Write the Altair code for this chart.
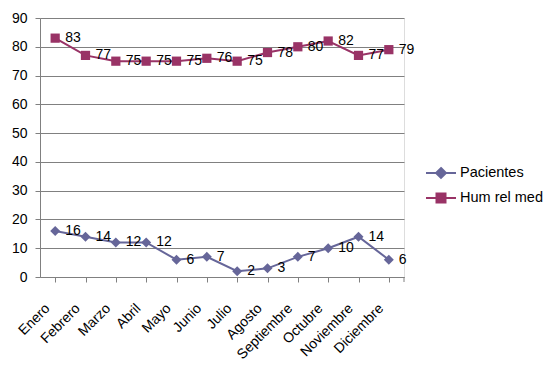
import altair as alt
import pandas as pd

months = ["Enero", "Febrero", "Marzo", "Abril", "Mayo", "Junio", "Julio",
          "Agosto", "Septiembre", "Octubre", "Noviembre", "Diciembre"]
pacientes = [16, 14, 12, 12, 6, 7, 2, 3, 7, 10, 14, 6]
hum_rel_med = [83, 77, 75, 75, 75, 76, 75, 78, 80, 82, 77, 79]
series_names = ["Pacientes", "Hum rel med"]
series_colors = ["#666699", "#993366"]

rows = []
for m, v in zip(months, pacientes):
    rows.append({"mes": m, "serie": "Pacientes", "valor": v})
for m, v in zip(months, hum_rel_med):
    rows.append({"mes": m, "serie": "Hum rel med", "valor": v})
df = pd.DataFrame(rows)

W, H = 364, 259
FONT = "Liberation Sans"

x_enc = alt.X("mes:N", sort=months, title=None,
              scale=alt.Scale(domain=months, paddingInner=0, paddingOuter=0),
              axis=alt.Axis(bandPosition=0, labelOffset=-8, labelAngle=315,
                            labelAlign="right", labelBaseline="middle",
                            labelPadding=24, tickSize=5, tickColor="#808080",
                            domainColor="#808080", labelFontSize=14,
                            labelColor="black", labelFont=FONT, grid=False))
y_enc = alt.Y("valor:Q", title=None,
              scale=alt.Scale(domain=[0, 90], nice=False),
              axis=alt.Axis(values=list(range(0, 91, 10)), tickSize=5,
                            tickColor="#808080", domainColor="#808080",
                            gridColor="#808080", labelFontSize=14,
                            labelColor="black", labelFont=FONT, labelPadding=8))

symbols = {
    "Pacientes": "M-1,0H1M0,-0.33L0.33,0L0,0.33L-0.33,0Z",
    "Hum rel med": "M-1,0H1M-0.3,-0.3H0.3V0.3H-0.3Z",
}
shapes = {"Pacientes": "diamond", "Hum rel med": "square"}
sizes = {"Pacientes": 100, "Hum rel med": 85}
legend_y = {"Pacientes": 139, "Hum rel med": 164}

layers = []
for name, col in zip(series_names, series_colors):
    base = alt.Chart(df).transform_filter(alt.datum.serie == name)
    line = base.mark_line(
        strokeWidth=2,
        point=alt.OverlayMarkDef(shape=shapes[name], size=sizes[name],
                                 filled=True, opacity=1),
    ).encode(
        x=x_enc, y=y_enc,
        color=alt.Color("serie:N",
                        scale=alt.Scale(domain=[name], range=[col]),
                        legend=alt.Legend(title=None, orient="none",
                                          legendX=385, legendY=legend_y[name],
                                          symbolType=symbols[name], symbolSize=900,
                                          symbolFillColor=col, symbolStrokeWidth=2,
                                          labelFontSize=14.5, labelFont=FONT,
                                          labelColor="black", labelOffset=3)),
    )
    text = base.mark_text(align="left", baseline="middle", dx=10, fontSize=14,
                          font=FONT, color="black").encode(
        x=x_enc, y=y_enc, text="valor:Q")
    layers.append(alt.layer(line, text))

end_tick = alt.Chart(pd.DataFrame({"a": [0]})).mark_rule(color="#808080").encode(
    x=alt.value(W), y=alt.value(H), y2=alt.value(H + 5))

chart = alt.layer(*layers, end_tick).resolve_scale(color="independent").properties(
    width=W, height=H,
    autosize=alt.AutoSizeParams(type="none"),
    padding={"left": 32, "top": 10, "right": 140, "bottom": 86},
).configure_view(stroke=None).configure(background="white")

chart.save("out.html", embed_options={"renderer": "svg", "actions": False})
